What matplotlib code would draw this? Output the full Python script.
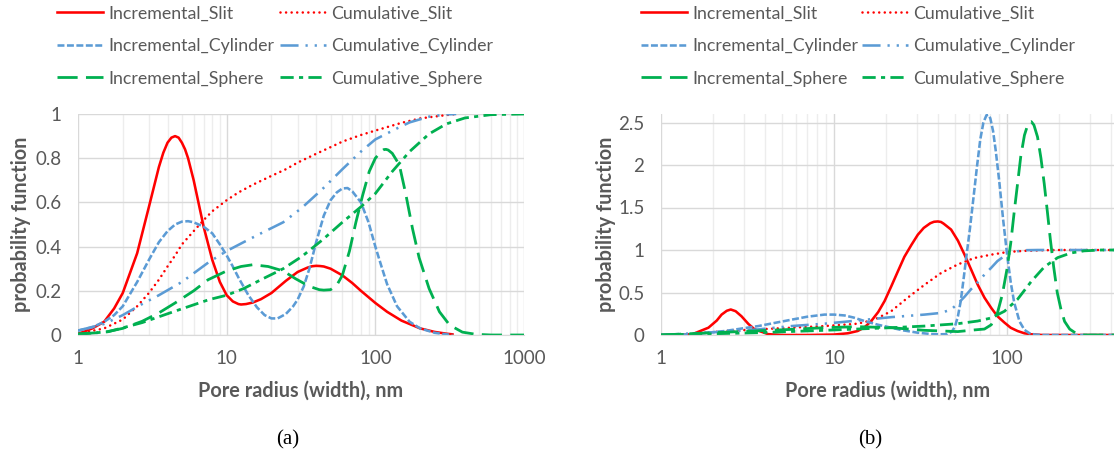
import matplotlib
matplotlib.use("Agg")
import matplotlib.pyplot as plt

plt.rcParams["font.family"] = ["Lato", "DejaVu Sans"]
plt.rcParams["lines.scale_dashes"] = False

# ---------------- panel (a) ----------------
a_inc_slit_x = [1, 1.25, 1.5, 1.75, 2, 2.5, 3, 3.5, 3.75, 4, 4.25, 4.5, 4.75, 5, 5.25, 5.5, 6, 7,
                8, 9, 10, 11, 12, 12.5, 13.5, 15, 17, 20, 25, 30, 35, 37.5, 40, 42.5, 45, 50, 60,
                70, 80, 100, 120, 150, 200, 250, 300, 330]
a_inc_slit_y = [0.005, 0.03, 0.06, 0.12, 0.19, 0.37, 0.58, 0.76, 0.825, 0.87, 0.893, 0.90, 0.893,
                0.87, 0.84, 0.80, 0.70, 0.49, 0.34, 0.24, 0.18, 0.152, 0.14, 0.138, 0.14, 0.147,
                0.162, 0.19, 0.245, 0.285, 0.305, 0.311, 0.313, 0.312, 0.31, 0.30, 0.27, 0.235,
                0.20, 0.145, 0.105, 0.065, 0.03, 0.014, 0.006, 0.003]

a_cum_slit_x = [1, 1.5, 2, 2.5, 3, 3.5, 4, 4.5, 5, 6, 7, 8, 10, 12, 15, 20, 25, 30, 40, 50, 60,
                80, 100, 150, 200, 300, 350]
a_cum_slit_y = [0.005, 0.03, 0.07, 0.13, 0.19, 0.25, 0.31, 0.36, 0.41, 0.47, 0.52, 0.56, 0.61,
                0.645, 0.68, 0.72, 0.75, 0.78, 0.82, 0.85, 0.875, 0.905, 0.925, 0.96, 0.98, 0.995, 1.0]

a_inc_cyl_x = [1, 1.25, 1.5, 1.75, 2, 2.5, 3, 3.5, 4, 4.5, 5, 5.5, 6, 7, 8, 9, 10, 11, 12, 14, 16,
               18, 20, 22, 25, 28, 30, 33, 36, 40, 45, 50, 55, 60, 65, 70, 80, 90, 100, 110, 120,
               140, 170, 200, 250, 300, 330]
a_inc_cyl_y = [0.02, 0.035, 0.06, 0.09, 0.13, 0.24, 0.34, 0.42, 0.47, 0.50, 0.513, 0.515, 0.51,
               0.49, 0.46, 0.41, 0.36, 0.31, 0.26, 0.18, 0.125, 0.09, 0.075, 0.075, 0.095, 0.13,
               0.16, 0.22, 0.30, 0.42, 0.54, 0.61, 0.645, 0.663, 0.665, 0.65, 0.60, 0.51, 0.40,
               0.31, 0.23, 0.13, 0.06, 0.03, 0.01, 0.003, 0.0]

a_cum_cyl_x = [1, 1.5, 2, 2.7, 3.5, 5, 7.6, 10, 13, 17, 24, 32, 44, 60, 80, 100, 140, 170, 230,
               300, 350]
a_cum_cyl_y = [0.02, 0.05, 0.09, 0.14, 0.18, 0.24, 0.33, 0.38, 0.42, 0.46, 0.51, 0.575, 0.66,
               0.75, 0.83, 0.885, 0.935, 0.962, 0.988, 0.998, 1.0]

a_inc_sph_x = [1, 1.5, 2, 2.7, 3.5, 4.5, 6, 7.5, 10, 12.5, 15, 19, 24, 29, 36, 42, 45, 50, 55, 60,
               67, 74, 82, 91, 100, 110, 114, 118, 122, 130, 145, 160, 178, 197, 230, 270, 316,
               385, 475, 600, 1000]
a_inc_sph_y = [0.005, 0.012, 0.03, 0.062, 0.10, 0.145, 0.20, 0.25, 0.29, 0.31, 0.318, 0.31, 0.29,
               0.255, 0.22, 0.205, 0.203, 0.205, 0.225, 0.27, 0.38, 0.51, 0.63, 0.74, 0.80, 0.832,
               0.839, 0.84, 0.837, 0.822, 0.77, 0.64, 0.48, 0.35, 0.21, 0.105, 0.045, 0.013,
               0.003, 0.0, 0.0]

a_cum_sph_x = [1, 1.6, 2.7, 4.5, 7.6, 10, 13, 17, 24, 32, 44, 60, 80, 100, 130, 170, 230, 300,
               400, 600, 1000]
a_cum_sph_y = [0.003, 0.015, 0.056, 0.108, 0.16, 0.18, 0.21, 0.25, 0.30, 0.355, 0.43, 0.51, 0.58,
               0.64, 0.74, 0.83, 0.91, 0.955, 0.982, 0.997, 1.0]

# ---------------- panel (b) ----------------
b_inc_slit_x = [1, 1.5, 1.88, 2.1, 2.24, 2.4, 2.53, 2.7, 2.92, 3.2, 3.48, 4.16, 5, 7, 10, 12,
                13.7, 15, 16.4, 18, 19.6, 21.5, 23.4, 25.5, 28, 30.5, 33, 36, 37.8, 39.8, 41.5, 43,
                47.5, 52, 56.8, 62, 67.6, 74, 80.9, 88, 96.7, 105, 115, 126, 138, 160, 415]
b_inc_slit_y = [0.0, 0.005, 0.086, 0.17, 0.24, 0.285, 0.30, 0.28, 0.22, 0.13, 0.066, 0.01, 0.0,
                0.0, 0.005, 0.02, 0.047, 0.09, 0.164, 0.27, 0.40, 0.58, 0.75, 0.92, 1.06, 1.18,
                1.26, 1.315, 1.332, 1.336, 1.33, 1.31, 1.24, 1.11, 0.945, 0.77, 0.594, 0.44, 0.32,
                0.22, 0.145, 0.085, 0.047, 0.02, 0.008, 0.0, 0.0]

b_cum_slit_x = [1, 1.5, 2.34, 3.65, 5.67, 8.8, 13.7, 17.1, 21.4, 26.7, 33.3, 41.6, 51.9, 64.7,
                80.9, 101, 126, 160, 200, 415]
b_cum_slit_y = [0.0, 0.01, 0.047, 0.066, 0.086, 0.105, 0.133, 0.18, 0.28, 0.44, 0.59, 0.73, 0.83,
                0.906, 0.945, 0.977, 0.99, 0.997, 1.0, 1.0]

b_inc_cyl_x = [1, 1.5, 2.34, 3.65, 5.67, 7, 8.8, 10, 11.5, 13, 15, 18, 21.4, 25, 30.5, 36, 40, 45,
               48, 50, 52, 54, 56, 58, 61, 64, 67, 70, 73, 76, 78, 80, 83, 86, 90, 95, 100, 105,
               110, 118, 126, 135, 145, 160, 415]
b_inc_cyl_y = [0.0, 0.008, 0.047, 0.105, 0.18, 0.215, 0.24, 0.24, 0.23, 0.205, 0.164, 0.12,
               0.086, 0.055, 0.027, 0.012, 0.008, 0.01, 0.04, 0.1, 0.22, 0.4, 0.65, 0.9, 1.25,
               1.62, 1.98, 2.3, 2.5, 2.585, 2.59, 2.55, 2.4, 2.17, 1.82, 1.35, 0.95, 0.62, 0.38,
               0.16, 0.06, 0.02, 0.005, 0.0, 0.0]

b_cum_cyl_x = [1, 2.34, 3.65, 5.67, 8.8, 13.7, 21.4, 33.3, 41.6, 47.5, 52, 56.8, 62, 67.6, 74,
               80.9, 88, 96.7, 105, 115, 130, 150, 415]
b_cum_cyl_y = [0.0, 0.04, 0.066, 0.105, 0.133, 0.17, 0.21, 0.24, 0.26, 0.3, 0.37, 0.45, 0.54,
               0.62, 0.71, 0.79, 0.87, 0.93, 0.965, 0.985, 0.998, 1.0, 1.0]

b_inc_sph_x = [1, 2, 5.67, 8.8, 13.7, 21.4, 33.3, 51.9, 65, 74, 81, 88, 94, 100, 105, 110, 115,
               120, 126, 132, 135, 138, 143, 150, 157, 164, 171, 178, 186, 195, 205, 215, 230,
               250, 280, 415]
b_inc_sph_y = [0.0, 0.027, 0.066, 0.086, 0.098, 0.086, 0.055, 0.04, 0.06, 0.07, 0.12, 0.26,
               0.48, 0.78, 1.08, 1.45, 1.78, 2.1, 2.35, 2.48, 2.505, 2.51, 2.47, 2.33, 2.08,
               1.78, 1.45, 1.12, 0.8, 0.5, 0.3, 0.16, 0.07, 0.02, 0.0, 0.0]

b_cum_sph_x = [1, 3.65, 8.8, 21.4, 33.3, 51.9, 67.6, 80.9, 96.7, 115, 138, 164, 196, 234, 279,
               350, 415]
b_cum_sph_y = [0.0, 0.027, 0.055, 0.086, 0.105, 0.133, 0.164, 0.2, 0.28, 0.42, 0.63, 0.8, 0.91,
               0.965, 0.99, 1.0, 1.0]

series_names = ["Incremental_Slit", "Cumulative_Slit", "Incremental_Cylinder",
                "Cumulative_Cylinder", "Incremental_Sphere", "Cumulative_Sphere"]

panel_a = [(a_inc_slit_x, a_inc_slit_y), (a_cum_slit_x, a_cum_slit_y),
           (a_inc_cyl_x, a_inc_cyl_y), (a_cum_cyl_x, a_cum_cyl_y),
           (a_inc_sph_x, a_inc_sph_y), (a_cum_sph_x, a_cum_sph_y)]
panel_b = [(b_inc_slit_x, b_inc_slit_y), (b_cum_slit_x, b_cum_slit_y),
           (b_inc_cyl_x, b_inc_cyl_y), (b_cum_cyl_x, b_cum_cyl_y),
           (b_inc_sph_x, b_inc_sph_y), (b_cum_sph_x, b_cum_sph_y)]

a_yticks = [0, 0.2, 0.4, 0.6, 0.8, 1]
a_ytick_labels = ["0", "0.2", "0.4", "0.6", "0.8", "1"]
a_xticks = [1, 10, 100, 1000]
b_yticks = [0, 0.5, 1, 1.5, 2, 2.5]
b_ytick_labels = ["0", "0.5", "1", "1.5", "2", "2.5"]
b_xticks = [1, 10, 100]

RED, BLUE, GREEN = "#FF0000", "#5B9BD5", "#00B050"
LW = 1.85
styles = {
    "Incremental_Slit": dict(color=RED, lw=LW, ls="-"),
    "Cumulative_Slit": dict(color=RED, lw=LW, ls=(0, (0.01, 4.0)), dash_capstyle="round"),
    "Incremental_Cylinder": dict(color=BLUE, lw=LW, ls=(0, (5.0, 1.8))),
    "Cumulative_Cylinder": dict(color=BLUE, lw=LW, ls=(0, (13, 5, 1.6, 5, 1.6, 5))),
    "Incremental_Sphere": dict(color=GREEN, lw=2.0, ls=(0, (14.5, 6))),
    "Cumulative_Sphere": dict(color=GREEN, lw=2.0, ls=(0, (9.5, 3.8, 3.0, 3.8))),
}

TXT = "#595959"
FS = 13.5        # tick labels
FS_LABEL = 14.3  # axis titles
FS_LEG = 12.8    # legend entries
W, H = 1114, 466

fig = plt.figure(figsize=(W / 100, H / 100), dpi=100)
ax_a = fig.add_axes([78 / W, (H - 335) / H, 446 / W, 221 / H])
ax_b = fig.add_axes([661 / W, (H - 335) / H, 453 / W, 221 / H])


def draw_panel(ax, data, xlim, ylim, xticks, yticks, yticklabels):
    handles = {}
    for name, (xs, ys) in zip(series_names, data):
        (ln,) = ax.plot(xs, ys, label=name, **styles[name])
        handles[name] = ln
    ax.set_xscale("log")
    ax.set_xlim(*xlim)
    ax.set_ylim(*ylim)
    ax.set_xticks(xticks)
    ax.set_xticklabels([str(t) for t in xticks])
    ax.set_yticks(yticks)
    ax.set_yticklabels(yticklabels)
    ax.xaxis.set_minor_formatter(plt.NullFormatter())
    ax.tick_params(which="both", length=0, colors=TXT, labelsize=FS)
    ax.tick_params(axis="y", pad=12)
    ax.tick_params(axis="x", pad=11)
    ax.grid(True, which="major", color="#D9D9D9", lw=1.0)
    ax.grid(True, which="minor", axis="x", color="#EDEDED", lw=1.0)
    ax.set_axisbelow(True)
    for s in ("top", "right", "left"):
        ax.spines[s].set_visible(False)
    ax.spines["bottom"].set_color("#D9D9D9")
    ax.set_xlabel("Pore radius (width), nm", fontsize=FS_LABEL, fontweight="bold", color=TXT)
    ax.set_ylabel("probability function", fontsize=FS_LABEL, fontweight="bold", color=TXT)
    ax.xaxis.label.set_va("center")
    ax.yaxis.label.set_va("center")
    return handles


ha = draw_panel(ax_a, panel_a, (1, 1000), (0, 1), a_xticks, a_yticks, a_ytick_labels)
hb = draw_panel(ax_b, panel_b, (1, 415), (0, 2.6), b_xticks, b_yticks, b_ytick_labels)

ax_a.xaxis.set_label_coords(0.5, (335 - 391) / 221)
ax_a.yaxis.set_label_coords((21 - 78) / 446, 0.5)
ax_b.xaxis.set_label_coords(0.5, (335 - 391) / 221)
ax_b.yaxis.set_label_coords((606 - 661) / 453, 0.5)


# legends: one column of incremental entries, one of cumulative entries per panel
def add_legend(handles, names, x_px):
    fig.legend([handles[n] for n in names], names, loc="upper left",
               bbox_to_anchor=(x_px / W, 1 - 5.5 / H), frameon=False, fontsize=FS_LEG,
               labelcolor=TXT, handlelength=2.6, handletextpad=0.3, borderpad=0,
               borderaxespad=0, labelspacing=0.93)


inc_names = ["Incremental_Slit", "Incremental_Cylinder", "Incremental_Sphere"]
cum_names = ["Cumulative_Slit", "Cumulative_Cylinder", "Cumulative_Sphere"]
add_legend(ha, inc_names, 57)
add_legend(ha, cum_names, 280)
add_legend(hb, inc_names, 641)
add_legend(hb, cum_names, 862)

fig.text(288 / W, 1 - 440 / H, "(a)", family="Liberation Serif", fontsize=15,
         ha="center", va="center", color="black")
fig.text(870 / W, 1 - 440 / H, "(b)", family="Liberation Serif", fontsize=15,
         ha="center", va="center", color="black")

fig.savefig("out.png", dpi=100)
